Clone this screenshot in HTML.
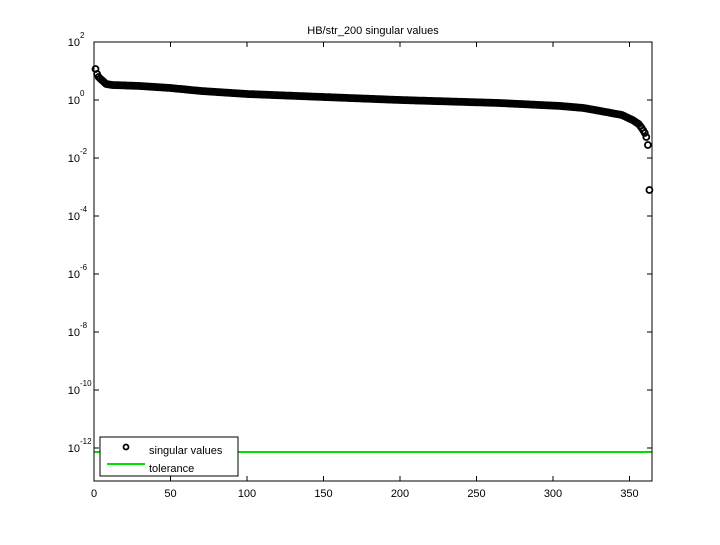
<!DOCTYPE html>
<html><head><meta charset="utf-8"><style>
body{margin:0;background:#fff;}
svg text{font-family:"Liberation Sans",sans-serif;font-size:11px;fill:#000;}
</style></head><body>
<svg id="s" width="720" height="540" xmlns="http://www.w3.org/2000/svg">
<rect width="720" height="540" fill="#fff"/>
<text x="373" y="34" text-anchor="middle">HB/str_200 singular values</text>
<line x1="94" y1="452" x2="652" y2="452" stroke="#00e000" stroke-width="2"/>
<g id="pts" fill="none" stroke="#000" stroke-width="1.8"></g>
<rect x="94" y="42" width="558" height="439" fill="none" stroke="#000" stroke-width="1"/>
<g id="ticks" stroke="#000" stroke-width="1"></g>
<g id="lab"></g>
<rect x="100" y="437" width="138" height="39" fill="#fff" stroke="#000"/>
<circle cx="126" cy="447" r="2.5" fill="none" stroke="#000" stroke-width="1.8"/>
<text x="149" y="454">singular values</text>
<line x1="107" y1="464" x2="145" y2="464" stroke="#00e000" stroke-width="2"/>
<text x="149" y="472">tolerance</text>
</svg>
<script>
var NS="http://www.w3.org/2000/svg";
function el(t,a,p){var e=document.createElementNS(NS,t);for(var k in a)e.setAttribute(k,a[k]);document.getElementById(p).appendChild(e);return e;}
var kp=[[1,69],[2,74],[3,77],[5,80],[8,84],[12,85],[30,86],[50,88],[70,91],[100,94],[150,97],[200,100],[265,103],[305,106],[320,108],[331,111],[345,115],[352,120],[356,124],[358,128],[360,133],[361,137],[362,145],[363,190]];
function yv(i){for(var j=0;j<kp.length-1;j++){if(i<=kp[j+1][0]){var a=kp[j],b=kp[j+1];return a[1]+(b[1]-a[1])*(i-a[0])/(b[0]-a[0]);}}return 190;}
for(var i=1;i<=363;i++){el("circle",{cx:(94+i*1.53).toFixed(1),cy:yv(i).toFixed(1),r:3},"pts");}
for(var v=0;v<=350;v+=50){var x=94+v*1.53;el("line",{x1:x,y1:481,x2:x,y2:476},"ticks");el("line",{x1:x,y1:42,x2:x,y2:47},"ticks");var t=el("text",{x:x,y:497,"text-anchor":"middle"},"lab");t.textContent=v;}
for(var d=2;d>=-12;d-=2){var y=100-d*29;el("line",{x1:94,y1:y,x2:99,y2:y},"ticks");el("line",{x1:652,y1:y,x2:647,y2:y},"ticks");
var t=el("text",{x:80,y:y+4,"text-anchor":"end"},"lab");t.textContent="10";
var s=el("text",{x:80,y:y-4},"lab");s.setAttribute("style","font-size:8px");s.textContent=d;}
</script>
</body></html>
